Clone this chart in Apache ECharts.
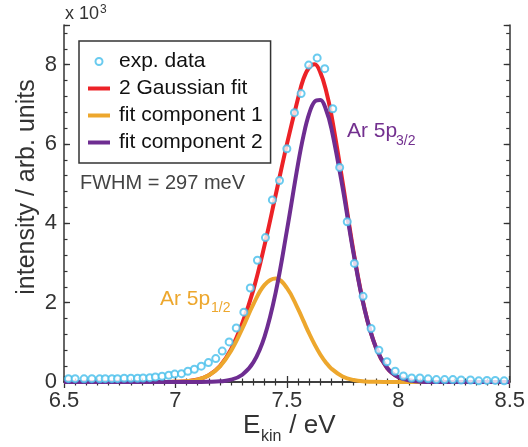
<!DOCTYPE html>
<html>
<head>
<meta charset="utf-8">
<script src="https://cdn.jsdelivr.net/npm/echarts@6/dist/echarts.min.js"></script>
<style>html,body{margin:0;padding:0;background:#fff}#c{width:528px;height:447px}</style>
</head>
<body>
<div id="c"></div>
<script>
// experimental data (kinetic energy in eV, intensity in counts)
const expX = [6.52, 6.55, 6.59, 6.625, 6.66, 6.685, 6.715, 6.74, 6.77, 6.80, 6.83, 6.855, 6.885, 6.91, 6.94, 6.97, 6.997, 7.027, 7.056, 7.085, 7.116, 7.148, 7.181, 7.21, 7.241, 7.273, 7.307, 7.336, 7.368, 7.404, 7.435, 7.467, 7.50, 7.534, 7.564, 7.598, 7.636, 7.670, 7.706, 7.737, 7.771, 7.803, 7.842, 7.878, 7.913, 7.949, 7.986, 8.023, 8.060, 8.097, 8.134, 8.171, 8.208, 8.245, 8.282, 8.324, 8.361, 8.398, 8.435, 8.475];
const expY = [85, 85, 80, 85, 80, 85, 85, 85, 95, 95, 95, 100, 110, 125, 145, 170, 200, 210, 270, 320, 400, 490, 590, 780, 1010, 1360, 1760, 2370, 3070, 3640, 4590, 5080, 5880, 6790, 7270, 7990, 8170, 7900, 6890, 5410, 4040, 2990, 2160, 1350, 800, 510, 270, 150, 100, 100, 80, 60, 60, 60, 50, 50, 30, 40, 40, 30];
// fit curves sampled along energy
const fitX   = [6.5, 6.9, 6.95, 7.0, 7.05, 7.1, 7.15, 7.2, 7.25, 7.3, 7.35, 7.4, 7.45, 7.5, 7.55, 7.575, 7.6, 7.625, 7.65, 7.675, 7.7, 7.75, 7.8, 7.85, 7.9, 7.95, 8.0, 8.05, 8.1, 8.15, 8.2, 8.5];
const fitSum = [0, 0, 1, 5, 19, 62, 172, 405, 830, 1480, 2330, 3450, 4720, 5990, 7150, 7650, 7930, 8010, 7806, 7368, 6726, 5044, 3265, 1816, 865, 353, 123, 37, 9, 2, 0, 0];
const comp1  = [0, 0, 1, 5, 19, 61, 168, 394, 788, 1346, 1964, 2449, 2608, 2373, 1845, 1533, 1224, 941, 694, 493, 336, 139, 49, 15, 4, 1, 0, 0, 0, 0, 0, 0];
const comp2  = [0, 0, 0, 0, 0, 1, 4, 16, 58, 183, 495, 1145, 2260, 3813, 5493, 6217, 6763, 7073, 7112, 6875, 6390, 4905, 3216, 1801, 861, 352, 123, 37, 9, 2, 0, 0];
const seriesNames = ['exp. data', '2 Gaussian fit', 'fit component 1', 'fit component 2'];

const FF = '"Liberation Sans", Arial, Helvetica, sans-serif';
const AX = '#333';
const C_DATA = '#45BEEB', C_RED = '#EC2227', C_ORANGE = '#EDA72D', C_PURPLE = '#6E2D91';

const pairs = (xs, ys) => xs.map((x, i) => [x, ys[i]]);

const chart = echarts.init(document.getElementById('c'), null, {renderer: 'canvas'});

const yBase = {
  type: 'value', min: 0, max: 9000, splitLine: {show: false},
  axisLine: {show: false}, axisTick: {show: true, inside: true, length: 6, lineStyle: {color: AX, width: 1.3}},
  axisLabel: {show: false}
};
const xBase = {
  type: 'value', min: 6.5, max: 8.5, interval: 0.5, splitLine: {show: false},
  axisLine: {show: true, lineStyle: {color: AX, width: 1.5}},
  axisTick: {show: true, inside: true, length: 6, lineStyle: {color: AX, width: 1.3}},
  minorTick: {show: true, splitNumber: 10, length: 3.5, lineStyle: {color: AX, width: 1.2}},
  axisLabel: {show: false}
};

chart.setOption({
  animation: false,
  backgroundColor: '#fff',
  textStyle: {fontFamily: FF},
  grid: {left: 64, right: 14, top: 25, bottom: 65, containLabel: false},
  xAxis: [
    Object.assign({}, xBase, {position: 'bottom',
      axisLabel: {show: true, fontSize: 22, color: AX, margin: 8, fontFamily: FF,
        formatter: v => String(v)}}),
    Object.assign({}, xBase, {position: 'top'})
  ],
  yAxis: [
    Object.assign({}, yBase, {position: 'left', interval: 2000,
      axisLine: {show: true, lineStyle: {color: AX, width: 1.5}},
      axisLabel: {show: true, fontSize: 22, color: AX, margin: 7, fontFamily: FF,
        formatter: v => (v % 2000 === 0 ? String(v / 1000) : '')}}),
    Object.assign({}, yBase, {position: 'left', interval: 400,
      axisTick: {show: true, inside: true, length: 3.5, lineStyle: {color: AX, width: 1.2}}}),
    Object.assign({}, yBase, {position: 'right', interval: 2000,
      axisLine: {show: true, lineStyle: {color: AX, width: 1.5}}}),
    Object.assign({}, yBase, {position: 'right', interval: 400,
      axisTick: {show: true, inside: true, length: 3.5, lineStyle: {color: AX, width: 1.2}}})
  ],
  legend: {
    orient: 'vertical', left: 79, top: 41,
    padding: [10, 8, 10, 7], itemGap: 6, itemWidth: 22, itemHeight: 7,
    borderColor: '#333', borderWidth: 1.5, backgroundColor: '#fff',
    textStyle: {fontSize: 21, color: '#111', fontFamily: FF, lineHeight: 20, padding: [0, 0, 0, 4]},
    lineStyle: {width: 4},
    selectedMode: false,
    data: [
      {name: seriesNames[0]},
      {name: seriesNames[1], itemStyle: {opacity: 0}},
      {name: seriesNames[2], itemStyle: {opacity: 0}},
      {name: seriesNames[3], itemStyle: {opacity: 0}}
    ]
  },
  series: [
    {name: seriesNames[1], type: 'line', data: pairs(fitX, fitSum), smooth: 0.4, symbol: 'none',
      lineStyle: {color: C_RED, width: 4}, itemStyle: {color: C_RED}, z: 2},
    {name: seriesNames[2], type: 'line', data: pairs(fitX, comp1), smooth: 0.4, symbol: 'none',
      lineStyle: {color: C_ORANGE, width: 4}, itemStyle: {color: C_ORANGE}, z: 3},
    {name: seriesNames[3], type: 'line', data: pairs(fitX, comp2), smooth: 0.4, symbol: 'none',
      lineStyle: {color: C_PURPLE, width: 4}, itemStyle: {color: C_PURPLE}, z: 4},
    {name: seriesNames[0], type: 'scatter', data: pairs(expX, expY), symbol: 'circle', symbolSize: 7,
      itemStyle: {color: '#fff', borderColor: C_DATA, borderWidth: 2}, z: 5}
  ],
  graphic: [
    {type: 'text', x: 65, y: 14, style: {text: 'x 10', font: '18px ' + FF, fill: '#333', textAlign: 'left', textVerticalAlign: 'middle'}},
    {type: 'text', x: 100, y: 10, style: {text: '3', font: '12px ' + FF, fill: '#333', textAlign: 'left', textVerticalAlign: 'middle'}},
    {type: 'text', x: 80, y: 183, style: {text: 'FWHM = 297 meV', font: '20px ' + FF, fill: '#444', textAlign: 'left', textVerticalAlign: 'middle'}},
    {type: 'text', x: 160, y: 299, style: {text: 'Ar 5p', font: '21px ' + FF, fill: C_ORANGE, textAlign: 'left', textVerticalAlign: 'middle'}},
    {type: 'text', x: 211, y: 308, style: {text: '1/2', font: '14px ' + FF, fill: C_ORANGE, textAlign: 'left', textVerticalAlign: 'middle'}},
    {type: 'text', x: 347, y: 131, style: {text: 'Ar 5p', font: '21px ' + FF, fill: '#73308F', textAlign: 'left', textVerticalAlign: 'middle'}},
    {type: 'text', x: 396, y: 141, style: {text: '3/2', font: '14px ' + FF, fill: '#73308F', textAlign: 'left', textVerticalAlign: 'middle'}},
    {type: 'text', x: 27, y: 187, rotation: Math.PI / 2, style: {text: 'intensity / arb. units', font: '25px ' + FF, fill: '#333', textAlign: 'center', textVerticalAlign: 'middle'}},
    {type: 'text', x: 243, y: 426, style: {text: 'E', font: '26px ' + FF, fill: '#333', textAlign: 'left', textVerticalAlign: 'middle'}},
    {type: 'text', x: 261, y: 437, style: {text: 'kin', font: '16px ' + FF, fill: '#333', textAlign: 'left', textVerticalAlign: 'middle'}},
    {type: 'text', x: 282, y: 426, style: {text: ' / eV', font: '26px ' + FF, fill: '#333', textAlign: 'left', textVerticalAlign: 'middle'}}
  ]
});
</script>
</body>
</html>
